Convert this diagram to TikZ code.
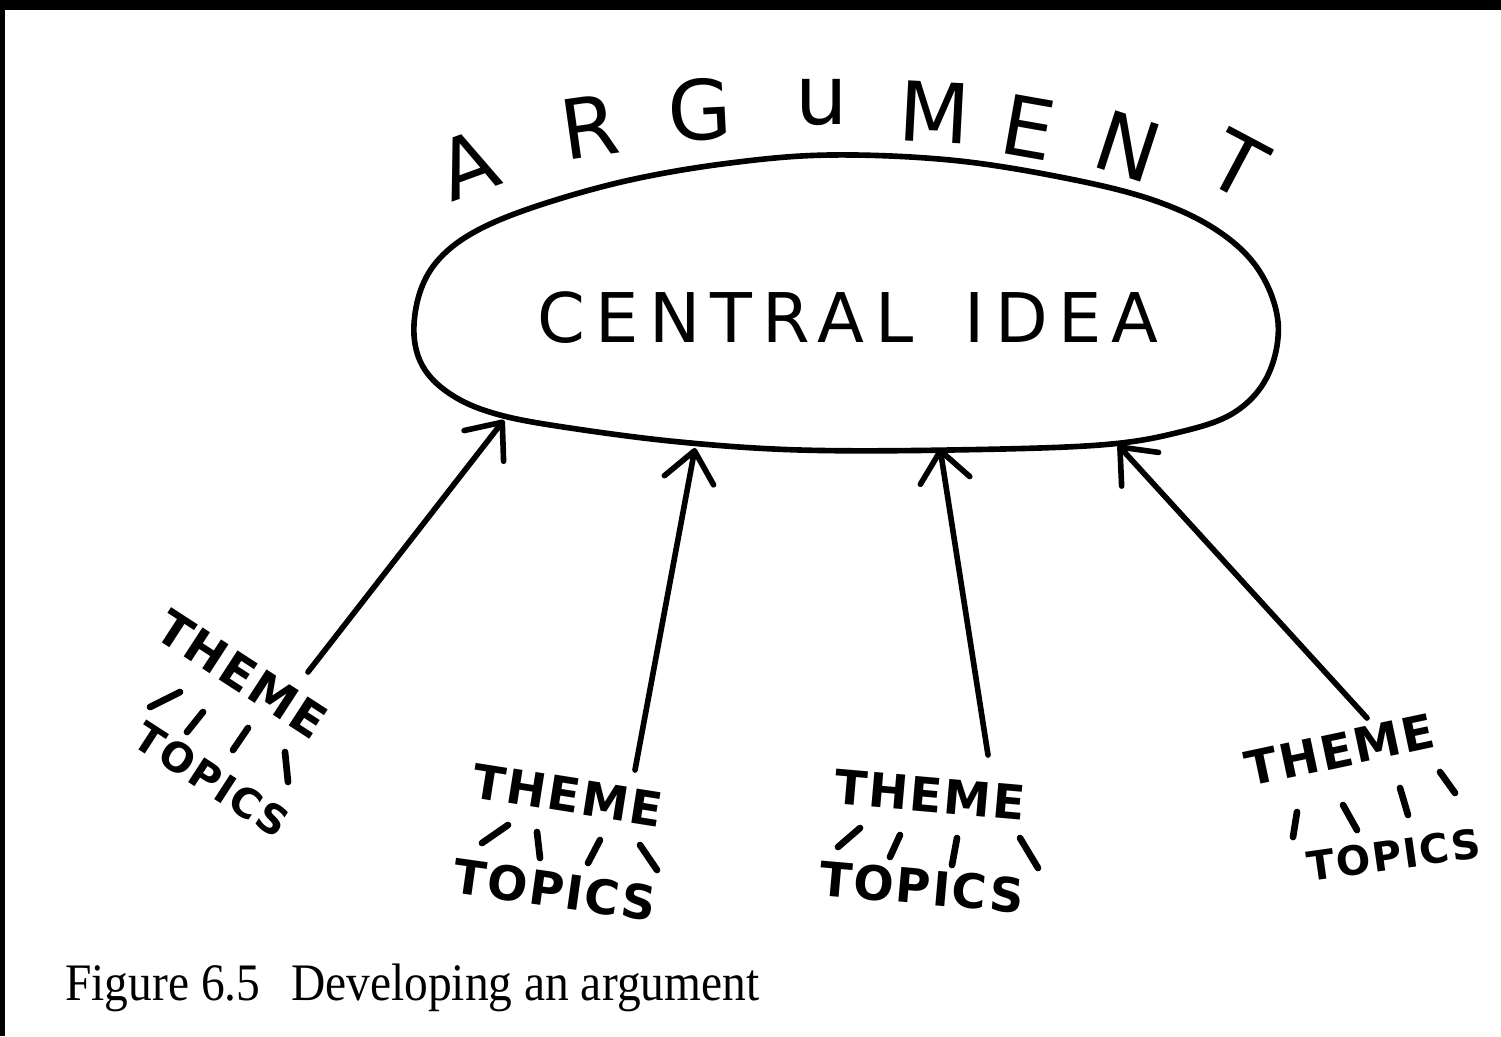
\documentclass[tikz,border=0pt]{standalone}
\usepackage{fontspec}
\setmainfont{DejaVu Sans}
\newfontfamily\capfont{Liberation Serif}
\usetikzlibrary{arrows.meta}
\tikzset{
  blob/.style={draw=black, line width=3.2pt, line join=round},
  link/.style={draw=black, line width=3.2pt, line cap=round, -{Straight Barb[length=6mm,width=10mm,round]}},
  tick/.style={draw=black, line width=3.8pt, line cap=round},
  hand/.style={font=\bfseries\fontsize{27}{27}\selectfont\addfontfeatures{LetterSpace=4}, inner sep=0pt},
  small hand/.style={font=\bfseries\fontsize{23}{23}\selectfont\addfontfeatures{LetterSpace=4}, inner sep=0pt},
  big/.style={font=\fontsize{39}{39}\selectfont\addfontfeatures{LetterSpace=15}, inner sep=0pt},
  arcl/.style={font=\fontsize{47}{47}\selectfont, inner sep=0pt},
  captext/.style={font=\capfont\fontsize{30}{30}\selectfont, inner sep=0pt, anchor=base west, xscale=0.9},
}

\begin{document}
\begin{tikzpicture}[x=0.02cm,y=-0.02cm]
  \useasboundingbox (0,0) rectangle (1501,1036);
  \fill[black] (0,0) rectangle (1501,10);
  \fill[black] (0,0) rectangle (5,1036);

  % central idea outline
  \draw[blob] plot[smooth cycle, tension=0.6] coordinates {
    (414,335) (420,292) (440,258) (478,230) (540,205) (630,180) (730,163)
    (830,155) (950,160) (1060,177) (1150,199) (1215,229) (1258,269) (1278,322)
    (1268,375) (1235,412) (1180,432) (1100,445) (950,450) (800,450)
    (680,442) (570,428) (500,415) (455,397) (425,370)};
  \node[big] (idea) at (848,318) {CENTRAL\hspace{0.75em}IDEA};

  % lettering over the top
  \foreach \ch/\px/\py/\rot [count=\i] in {A/468/165/20, R/590/127/8, G/700/110/3,
      u/822/102/0, M/935/112/-3, E/1028/127/-10, N/1128/146/-18, T/1238/165/-28}
    \node[arcl, rotate=\rot] (arg\i) at (\px,\py) {\ch};

  % themes and topics
  \node[hand, rotate=-33] (theme1) at (242,674) {THEME};
  \node[small hand, rotate=-33] (topics1) at (212,780) {TOPICS};
  \node[hand, rotate=-9] (theme2) at (568,795) {THEME};
  \node[hand, rotate=-8] (topics2) at (555,890) {TOPICS};
  \node[hand, rotate=-5] (theme3) at (930,795) {THEME};
  \node[hand, rotate=-5] (topics3) at (922,887) {TOPICS};
  \node[hand, rotate=12] (theme4) at (1340,750) {THEME};
  \node[small hand, rotate=8] (topics4) at (1394,855) {TOPICS};

  % little strokes between theme and topics
  \foreach \ax/\ay/\bx/\by in {150/707/180/692, 187/732/203/712, 233/750/248/728, 285/752/288/782,
      482/843/508/825, 537/832/540/858, 588/863/600/840, 640/845/657/870,
      838/847/860/828, 890/857/900/835, 952/865/957/838, 1020/838/1038/868,
      1297/812/1293/837, 1343/805/1357/830, 1400/788/1408/815, 1440/772/1455/793}
    \draw[tick] (\ax,\ay) -- (\bx,\by);

  % arrows into the central idea
  \coordinate (t1) at (308,672);  \coordinate (h1) at (504,420);
  \coordinate (t2) at (635,770);  \coordinate (h2) at (695,448);
  \coordinate (t3) at (988,755);  \coordinate (h3) at (940,448);
  \coordinate (t4) at (1367,718); \coordinate (h4) at (1118,445);
  \draw[link] (t1) -- (h1);
  \draw[link] (t2) -- (h2);
  \draw[link] (t3) -- (h3);
  \draw[link] (t4) -- (h4);

  \node[captext] (caption) at (65,1000) {Figure 6.5\hspace{0.4em} Developing an argument};
\end{tikzpicture}
\end{document}
